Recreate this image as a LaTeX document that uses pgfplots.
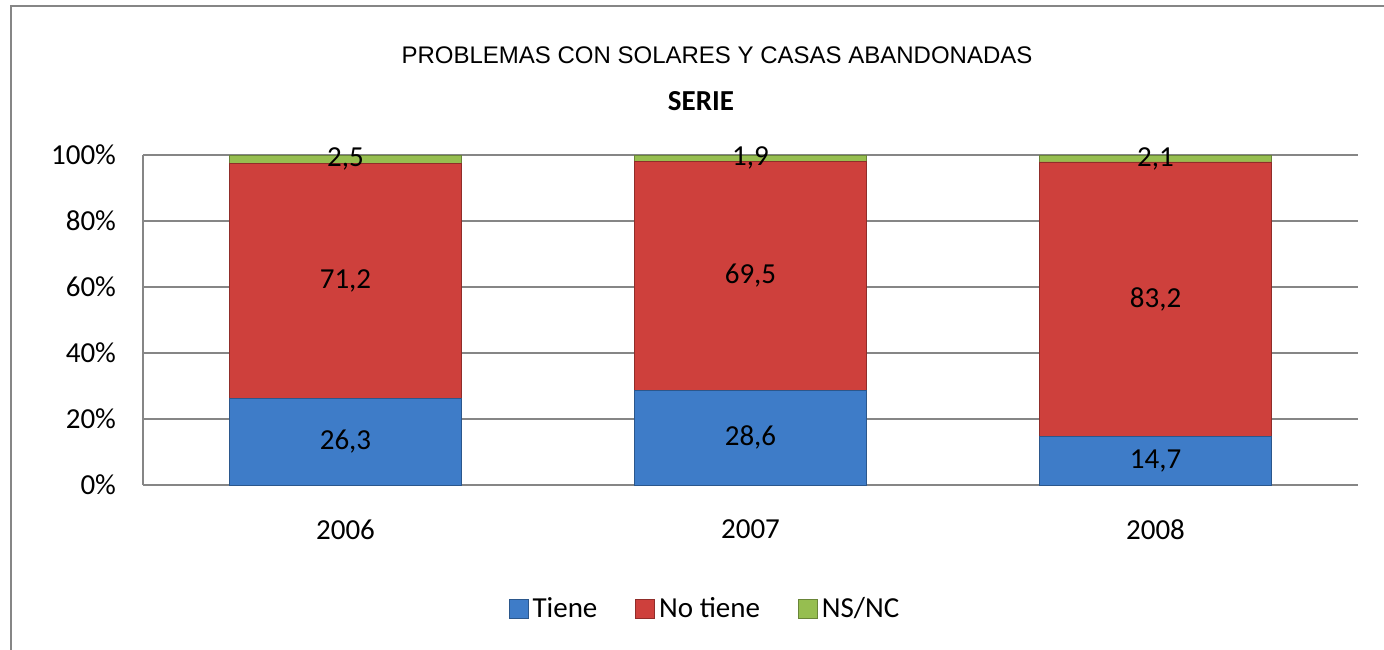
\documentclass[border=0pt]{standalone}
\usepackage{fontspec}
\setmainfont{Carlito}
\newfontfamily\arialfont{Liberation Sans}
\usepackage{pgfplots}
\pgfplotsset{compat=1.18}
\definecolor{axisgray}{RGB}{134,134,134}
\definecolor{tieneblue}{RGB}{62,124,200}
\definecolor{notienered}{RGB}{206,64,60}
\definecolor{nsgreen}{RGB}{150,190,80}
\newcommand{\lblfont}{\fontsize{14.5}{17}\selectfont}

\begin{document}
\begin{tikzpicture}
\useasboundingbox (-71.5pt,-82pt) rectangle (620.5pt,242.5pt);
% outer chart frame (right and bottom edges fall outside the picture)
\draw[axisgray, line width=1pt] (-66pt,-120pt) rectangle (720pt,239.5pt);
\begin{axis}[
  at={(0pt,0pt)}, anchor=south west,
  scale only axis, width=607.5pt, height=165pt,
  ybar stacked, bar width=116pt,
  xmin=-0.5, xmax=2.5, ymin=0, ymax=100,
  xtick={0,1,2}, xticklabels={2006,2007,2008},
  ytick={0,20,...,100},
  yticklabel={\pgfmathprintnumber{\tick}\%},
  axis x line*=bottom, axis y line*=left,
  axis line style={draw=axisgray, line width=1pt},
  ymajorgrids, grid style={axisgray, line width=1pt},
  major tick length=0pt,
  tick label style={font=\lblfont},
  yticklabel style={xshift=-10pt},
  xticklabel style={yshift=-14pt},
  /pgf/number format/assume math mode=true,
  point meta=rawy,
  nodes near coords={\pgfmathprintnumber[fixed,fixed zerofill,precision=1,use comma]{\pgfplotspointmeta}},
  nodes near coords align=center,
  every node near coord/.append style={font=\lblfont, text=black, anchor=center},
  legend columns=3,
  legend style={at={(0.4634,0)}, anchor=center, yshift=-62pt, draw=none,
    font=\lblfont, /tikz/every even column/.append style={column sep=17pt}},
  legend image code/.code={\draw[#1] (0pt,-4.7pt) rectangle (9.5pt,4.7pt);},
]
\addplot[fill=tieneblue, draw=tieneblue!70!black] coordinates {(0,26.3) (1,28.6) (2,14.7)};
\addplot[fill=notienered, draw=notienered!70!black] coordinates {(0,71.2) (1,69.5) (2,83.2)};
\addplot[fill=nsgreen, draw=nsgreen!70!black] coordinates {(0,2.5) (1,1.9) (2,2.1)};
\legend{Tiene, No tiene, NS/NC}
\end{axis}
\node[font=\arialfont\fontsize{12}{14}\selectfont] at (287pt,215pt) {PROBLEMAS CON SOLARES Y CASAS ABANDONADAS};
\node[font=\lblfont\bfseries] at (279pt,192pt) {SERIE};
\end{tikzpicture}
\end{document}
